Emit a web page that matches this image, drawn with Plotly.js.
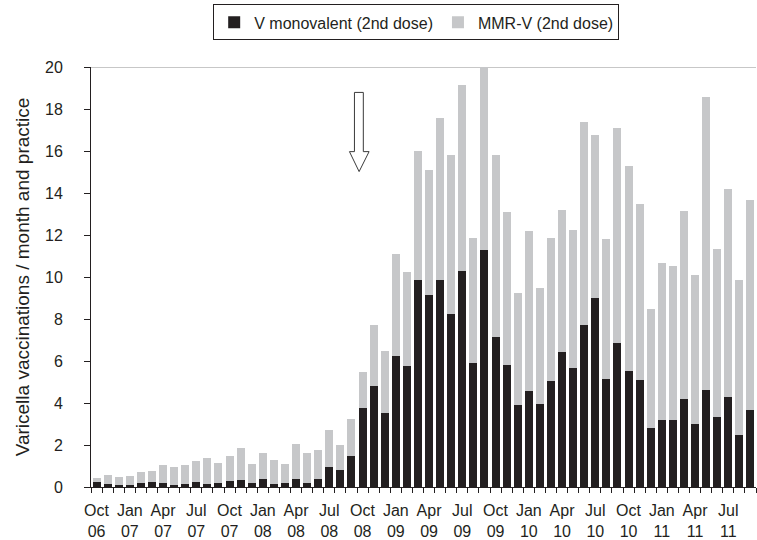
<!DOCTYPE html>
<html>
<head>
<meta charset="utf-8">
<script src="https://cdn.plot.ly/plotly-3.0.1.min.js"></script>
<style>html,body{margin:0;padding:0;background:#fff;}#chart{width:757px;height:540px;}</style>
</head>
<body>
<div id="chart"></div>
<script>
const months = [
  "Oct 06","Nov 06","Dec 06","Jan 07","Feb 07","Mar 07","Apr 07","May 07","Jun 07","Jul 07","Aug 07","Sep 07",
  "Oct 07","Nov 07","Dec 07","Jan 08","Feb 08","Mar 08","Apr 08","May 08","Jun 08","Jul 08","Aug 08","Sep 08",
  "Oct 08","Nov 08","Dec 08","Jan 09","Feb 09","Mar 09","Apr 09","May 09","Jun 09","Jul 09","Aug 09","Sep 09",
  "Oct 09","Nov 09","Dec 09","Jan 10","Feb 10","Mar 10","Apr 10","May 10","Jun 10","Jul 10","Aug 10","Sep 10",
  "Oct 10","Nov 10","Dec 10","Jan 11","Feb 11","Mar 11","Apr 11","May 11","Jun 11","Jul 11","Aug 11","Sep 11"
];
const vMonovalent = [
  0.24,0.14,0.10,0.10,0.17,0.22,0.17,0.08,0.13,0.22,0.13,0.17,
  0.27,0.32,0.17,0.37,0.13,0.19,0.38,0.19,0.38,0.94,0.80,1.46,
  3.75,4.80,3.51,6.23,5.76,9.86,9.14,9.86,8.24,10.29,5.90,11.29,
  7.14,5.80,3.90,4.56,3.94,5.04,6.42,5.66,7.71,9.00,5.14,6.85,
  5.52,5.09,2.80,3.18,3.18,4.18,2.99,4.61,3.32,4.28,2.47,3.66
];
const mmrV = [
  0.17,0.42,0.36,0.41,0.53,0.53,0.86,0.86,0.90,1.00,1.24,0.96,
  1.19,1.52,0.91,1.24,1.14,0.89,1.66,1.42,1.37,1.76,1.19,1.77,
  1.72,2.91,2.96,4.87,4.48,6.15,5.96,7.72,7.58,8.87,5.96,8.71,
  8.68,7.30,5.34,7.63,5.54,6.82,6.78,6.58,9.68,7.77,6.67,10.26,
  9.77,8.39,5.67,7.49,7.34,8.97,7.11,13.97,8.02,9.92,7.39,10.01
];
const tickMonths = ["Oct 06","Jan 07","Apr 07","Jul 07","Oct 07","Jan 08","Apr 08","Jul 08","Oct 08","Jan 09",
  "Apr 09","Jul 09","Oct 09","Jan 10","Apr 10","Jul 10","Oct 10","Jan 11","Apr 11","Jul 11"];
const yTicks = [0,2,4,6,8,10,12,14,16,18,20];

const xIdx = months.map((m, i) => i);
const tickvals = tickMonths.map(m => months.indexOf(m));
const ticktext = tickMonths.map(m => m.replace(' ', '<br>'));

const FONT = 'Liberation Sans, Arial, Helvetica, sans-serif';
const INK = '#231f20';

const traces = [
  {type:'bar', name:'V monovalent (2nd dose)', x:xIdx, y:vMonovalent, text:months, hoverinfo:'text+y',
   textposition:'none', marker:{color:INK, line:{width:0}}},
  {type:'bar', name:'MMR-V (2nd dose)', x:xIdx, y:mmrV, text:months, hoverinfo:'text+y',
   textposition:'none', marker:{color:'#c6c7c9', line:{width:0}}}
];

const layout = {
  width:757, height:540,
  margin:{l:91, r:1, t:67, b:53},
  paper_bgcolor:'#fff', plot_bgcolor:'#fff',
  barmode:'stack', bargap:0.28,
  font:{family:FONT, color:INK, size:16},
  showlegend:true,
  legend:{orientation:'h', x:0.489, xanchor:'center', y:1.149, yanchor:'top',
          bordercolor:INK, borderwidth:1, bgcolor:'#fff', font:{size:16, family:FONT, color:INK},
          itemwidth:30, traceorder:'normal', itemclick:false},
  xaxis:{type:'linear', range:[-0.5, 59.5], tickmode:'array', tickvals:tickvals, ticktext:ticktext,
         ticks:'outside', ticklen:0, tickfont:{size:16, family:FONT, color:INK}, ticklabelstandoff:9,
         showline:true, linecolor:INK, linewidth:1, showgrid:false, zeroline:false, fixedrange:true,
         minor:{ticks:'outside', ticklen:5, tick0:-0.5, dtick:1, tickcolor:INK, tickwidth:1, showgrid:false}},
  yaxis:{range:[0,20], tickmode:'array', tickvals:yTicks, ticks:'outside', ticklen:6, tickcolor:INK,
         tickfont:{size:16, family:FONT, color:INK}, ticklabelstandoff:18,
         showline:true, linecolor:INK, linewidth:1, showgrid:false, zeroline:false, fixedrange:true,
         title:{text:'Varicella vaccinations / month and practice', font:{size:19, family:FONT, color:INK}, standoff:10}},
  shapes:[
    {type:'line', xref:'paper', yref:'y', x0:0, x1:1, y0:20, y1:20, line:{color:'#b5b5b5', width:1.5}, layer:'below'},
    {type:'path', xref:'x', yref:'y',
     path:'M 23.27 18.79 L 24.07 18.79 L 24.07 15.97 L 24.59 15.97 L 23.69 15.02 L 22.82 15.97 L 23.27 15.97 Z',
     line:{color:'#3a3a3a', width:1}, fillcolor:'#fff'}
  ]
};

Plotly.newPlot('chart', traces, layout, {displayModeBar:false, staticPlot:true});
</script>
</body>
</html>
